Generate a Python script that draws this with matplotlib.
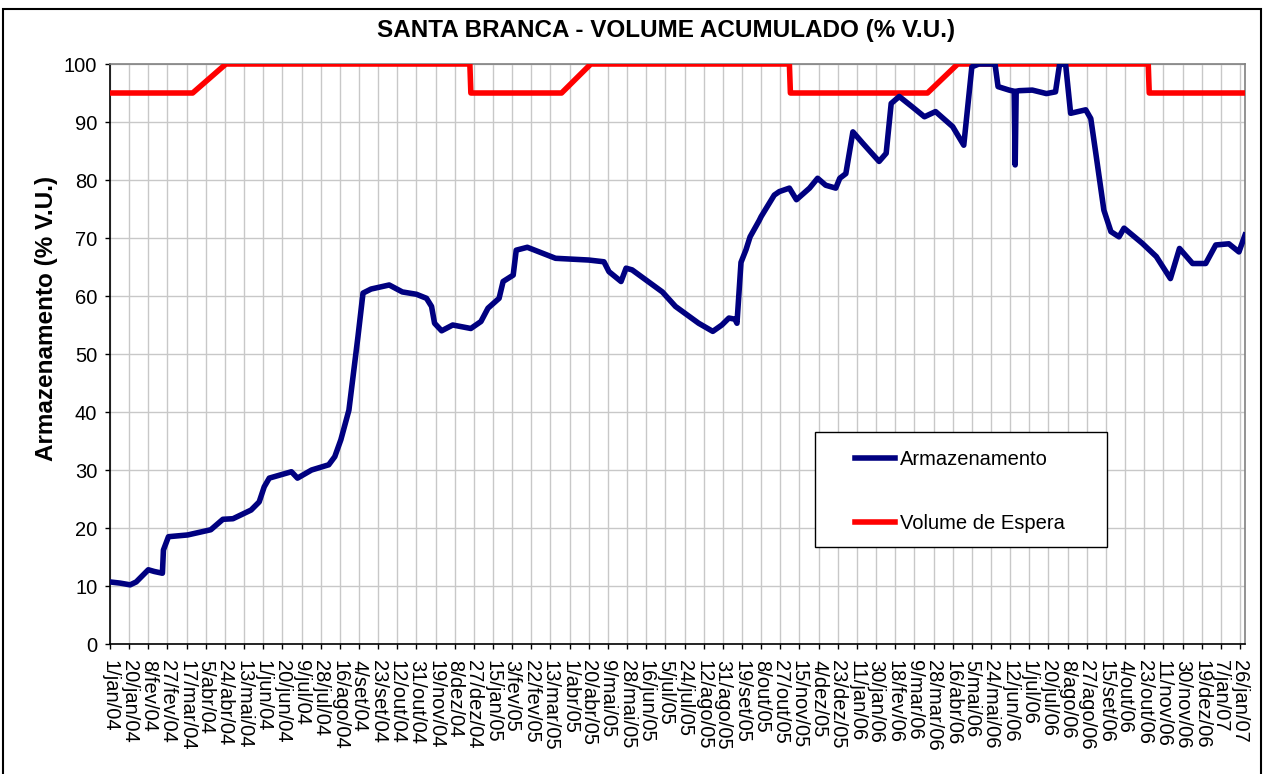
import numpy as np
import pandas as pd
import matplotlib
matplotlib.use("Agg")
import matplotlib.pyplot as plt
from matplotlib.patches import Rectangle

plt.rcParams['font.family'] = ['Liberation Sans', 'DejaVu Sans']

# === Data (days counted from 1/jan/2004) ===
start = pd.Timestamp('2004-01-01')

arm_day = [0, 10, 20, 26, 38, 44, 52, 53, 58, 77, 100, 112, 122, 140, 148, 153, 158,
           180, 186, 200, 217, 223, 229, 237, 246, 251, 259, 277, 290, 304, 314, 319,
           322, 329, 340, 358, 368, 375, 386, 390, 400, 403, 414, 442, 475, 490, 495,
           507, 512, 518, 548, 561, 584, 598, 607, 614, 620, 622, 626, 631, 635, 644,
           646, 659, 664, 674, 681, 694, 702, 710, 720, 724, 730, 737, 747, 763, 770,
           775, 783, 796, 808, 819, 836, 847, 855, 862, 875, 878, 881, 892, 897, 898,
           899, 902, 915, 929, 938, 942, 948, 953, 968, 973, 978, 986, 993, 1001, 1006,
           1024, 1038, 1052, 1061, 1074, 1087, 1097, 1110, 1120, 1126]
arm_val = [10.7, 10.5, 10.2, 10.7, 12.8, 12.5, 12.2, 16.2, 18.5, 18.8, 19.7, 21.5, 21.6,
           23.1, 24.5, 27.1, 28.6, 29.7, 28.6, 30.0, 30.9, 32.3, 35.2, 40.3, 53.0, 60.5,
           61.2, 61.9, 60.7, 60.3, 59.6, 58.2, 55.3, 54.0, 55.0, 54.4, 55.6, 57.9, 59.6,
           62.5, 63.6, 67.9, 68.4, 66.5, 66.2, 65.9, 64.2, 62.5, 64.8, 64.5, 60.7, 58.2,
           55.3, 53.9, 55.0, 56.2, 56.0, 55.3, 65.8, 68.0, 70.2, 73.0, 73.7, 77.4, 78.0,
           78.6, 76.6, 78.6, 80.3, 79.1, 78.6, 80.3, 81.1, 88.3, 86.3, 83.2, 84.6, 93.2,
           94.4, 92.6, 90.9, 91.8, 89.2, 86.0, 99.5, 100.0, 100.0, 100.0, 96.1, 95.5,
           95.3, 82.6, 95.3, 95.4, 95.5, 94.9, 95.2, 99.9, 100.0, 91.5, 92.1, 90.6, 84.6,
           74.8, 71.1, 70.2, 71.7, 69.1, 66.8, 63.0, 68.2, 65.6, 65.6, 68.8, 69.0, 67.6,
           70.5]

esp_day = [0, 82, 115, 357, 358, 448, 477, 674, 675, 811, 841, 1030, 1031, 1126]
esp_val = [95, 95, 100, 100, 95, 95, 100, 100, 95, 95, 100, 100, 95, 95]

meses = ['jan', 'fev', 'mar', 'abr', 'mai', 'jun', 'jul', 'ago', 'set', 'out', 'nov', 'dez']
tick_dates = pd.date_range('2004-01-01', '2007-01-26', freq='19D')
tick_labels = [f"{d.day}/{meses[d.month - 1]}/{d.year % 100:02d}" for d in tick_dates]

arm_x = start + pd.to_timedelta(arm_day, unit='D')
esp_x = start + pd.to_timedelta(esp_day, unit='D')

# === Figure ===
W, H = 1263, 774
fig = plt.figure(figsize=(W / 100, H / 100), dpi=100)
ax = fig.add_axes([110 / W, 130 / H, 1135 / W, 580 / H])

ax.plot(esp_x, esp_val, color='#ff0000', lw=4, label='Volume de Espera', zorder=3)
ax.plot(arm_x, arm_val, color='#000080', lw=4, label='Armazenamento', zorder=4)

ax.set_xlim(start, start + pd.Timedelta(days=1126))
ax.set_ylim(0, 100)
ax.set_yticks(np.arange(0, 101, 10))
ax.set_xticks(tick_dates)
ax.set_xticklabels(tick_labels, rotation=270, ha='center', va='top')

ax.grid(True, color='#c8c8c8', lw=1)
ax.set_axisbelow(True)
for s in ['left', 'bottom']:
    ax.spines[s].set_color('black')
    ax.spines[s].set_linewidth(1.2)
for s in ['top', 'right']:
    ax.spines[s].set_color('#808080')
    ax.spines[s].set_linewidth(1.2)
ax.tick_params(axis='both', direction='out', length=3.6, width=1, labelsize=14.5)
ax.tick_params(axis='y', pad=5.5)
ax.tick_params(axis='x', pad=8)

# legend box
ax.add_patch(Rectangle((0.621, 0.167), 0.257, 0.1985, transform=ax.transAxes,
                       fc='white', ec='black', lw=1, zorder=5))
handles, labels = ax.get_legend_handles_labels()
leg = ax.legend(handles[::-1], labels[::-1], loc='upper left', bbox_to_anchor=(0.6564, 0.335),
                frameon=False, fontsize=14.5, borderpad=0, borderaxespad=0,
                handlelength=2.0, handletextpad=0.25, labelspacing=2.25)
leg.set_zorder(6)

fig.text(666 / W, 1 - 30 / H, 'SANTA BRANCA - VOLUME ACUMULADO (% V.U.)',
         ha='center', va='center', fontsize=17.5, fontweight='bold')
fig.text(47 / W, 1 - 318 / H, 'Armazenamento (% V.U.)', rotation=90,
         ha='center', va='center', fontsize=17.5, fontweight='bold')

fig.patches.append(Rectangle((3 / W, -0.01), 1258 / W, (765 / H) + 0.01,
                             transform=fig.transFigure, fill=False, ec='black', lw=1.5))

fig.savefig('out.png', dpi=100, facecolor='white')
